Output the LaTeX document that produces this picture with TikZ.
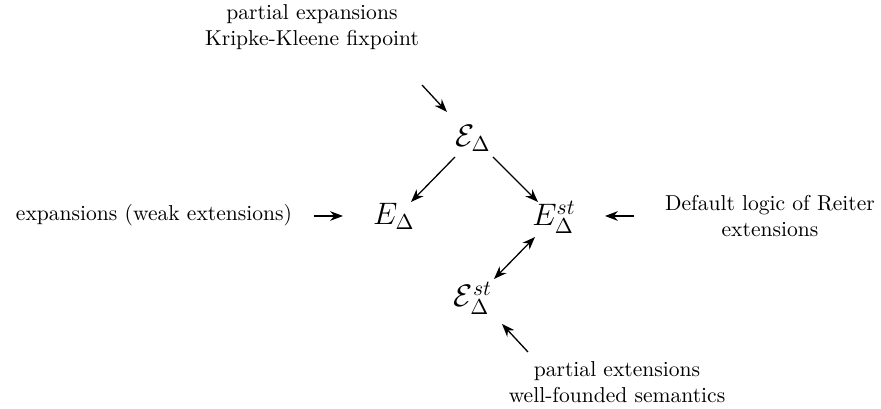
\documentclass[tikz,border=0pt]{standalone}
\usetikzlibrary{positioning, arrows.meta, calc}
\tikzset{
    lbl/.style={
        font=\normalsize, align=center, inner sep=1pt,
    },
    sem/.style={
        font=\Large, inner sep=1pt, anchor=base,
    },
    arrow/.style={
        -{Stealth[length=6pt, width=4.5pt]}, line width=0.6pt,
    },
    darrow/.style={
        {Stealth[length=6pt, width=4.5pt]}-{Stealth[length=6pt, width=4.5pt]}, line width=0.6pt,
    },
}
\begin{document}
\begin{tikzpicture}[x=0.0163cm, y=-0.0163cm]
\useasboundingbox (0,0) rectangle (881,409);

% ── Semantics ────────────────────────────────────────────────
\node[sem] (kk)  at (473,147) {$\mathcal{E}_\Delta$};
\node[sem] (exp) at (394,225) {$E_\Delta$};
\node[sem] (ext) at (554,226) {$E_\Delta^{st}$};
\node[sem] (wf)  at (473,307) {$\mathcal{E}_\Delta^{st}$};

% ── Descriptions ─────────────────────────────────────────────
\node[lbl] (kktxt)  at (312,27)  {partial expansions\\Kripke-Kleene fixpoint};
\node[lbl] (exptxt) at (154,215) {expansions (weak extensions)};
\node[lbl] (exttxt) at (770,216) {Default logic of Reiter\\extensions};
\node[lbl] (wftxt)  at (617,382) {partial extensions\\well-founded semantics};

% end points of the short pointers and relations
\coordinate (kkfrom)  at (422,85);
\coordinate (kkto)    at (447,112);
\coordinate (expfrom) at (314,216);
\coordinate (expto)   at (343,216);
\coordinate (extfrom) at (634,216);
\coordinate (extto)   at (605,216);
\coordinate (wffrom)  at (528,352);
\coordinate (wfto)    at (502,324);
\coordinate (kkl)     at (455,157);
\coordinate (kkr)     at (493,157);
\coordinate (expin)   at (411,202);
\coordinate (extin)   at (538,202);
\coordinate (extlo)   at (535,237);
\coordinate (wfup)    at (494,279);

% ── Pointers from the descriptions ───────────────────────────
\draw[arrow] (kkfrom) -- (kkto);
\draw[arrow] (expfrom) -- (expto);
\draw[arrow] (extfrom) -- (extto);
\draw[arrow] (wffrom) -- (wfto);

% ── Relations ────────────────────────────────────────────────
\draw[arrow] (kkl) -- (expin);
\draw[arrow] (kkr) -- (extin);
\draw[darrow] (wfup) -- (extlo);

\end{tikzpicture}
\end{document}
